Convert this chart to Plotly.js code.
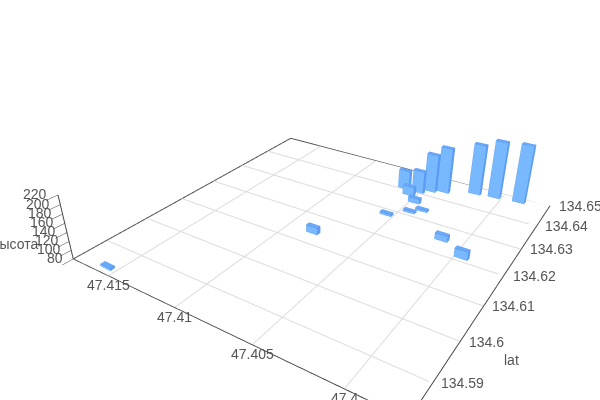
<!DOCTYPE html><html><head><meta charset="utf-8"><script src="https://cdn.plot.ly/plotly-3.0.0.min.js"></script></head><body style="margin:0;overflow:hidden;background:#fff">
<div id="g" style="position:absolute;left:-55px;top:-44px;width:750px;height:500px"></div>
<script>
const lats=[134.6483,134.6476,134.6469,134.6440,134.6428,134.6406,134.6409,134.6386,134.6360,134.6316,134.6335,134.6281,134.6252,134.6215,134.6140,134.5842];
const lons=[47.3989,47.4005,47.4018,47.4037,47.4045,47.4051,47.4062,47.4055,47.4047,47.4044,47.4038,47.4055,47.4013,47.3996,47.4082,47.4157];
const heights=[220,218,203,191,173,136,126,102,92,85,85,85,94,99,96,85];
const latTicks=[134.59,134.6,134.61,134.62,134.63,134.64,134.65];
const lonTicks=[47.4,47.405,47.41,47.415];
const zTicks=[80,100,120,140,160,180,200,220];
const latRange=[134.5825,134.65],lonRange=[47.397,47.418],zRange=[80,220];
const halfLat=.0005,halfLon=.0004,baseZ=80,floorZ=80.5;
const X=[],Y=[],Z=[],I=[],J=[],K=[],FC=[],ex=[],ey=[],ez=[];
const faces=[[0,1,2],[0,2,3],[4,5,6],[4,6,7],[0,1,5],[0,5,4],[1,2,6],[1,6,5],[2,3,7],[2,7,6],[3,0,4],[3,4,7]];
const fcol=['#78b8ff','#78b8ff','#6aa8f8','#6aa8f8','#5c9cf2','#5c9cf2','#78b8ff','#78b8ff','#78b8ff','#78b8ff','#78b8ff','#78b8ff'];
const loop=[0,1,2,3,0,4,5,6,7,4,null,1,5,null,2,6,null,3,7,null];
lats.forEach((la,n)=>{const lo=lons[n],h=heights[n],b=X.length;
 const vx=[la-halfLat,la+halfLat,la+halfLat,la-halfLat],vy=[lo-halfLon,lo-halfLon,lo+halfLon,lo+halfLon];
 [baseZ,h].forEach(z=>vx.forEach((v,i)=>{X.push(v);Y.push(vy[i]);Z.push(z)}));
 faces.forEach((t,i)=>{I.push(b+t[0]);J.push(b+t[1]);K.push(b+t[2]);FC.push(fcol[i])});
 loop.forEach(i=>{if(i===null){ex.push(null);ey.push(null);ez.push(null)}else{ex.push(X[b+i]);ey.push(Y[b+i]);ez.push(Z[b+i])}});
});
const gx=[],gy=[],gz=[];
latTicks.slice(0,6).forEach(v=>{gx.push(v,v,null);gy.push(lonRange[0]+.00002,lonRange[1]-.00002,null);gz.push(floorZ,floorZ,null)});
lonTicks.forEach(v=>{gx.push(latRange[0]+.00005,latRange[1]-.00005,null);gy.push(v,v,null);gz.push(floorZ,floorZ,null)});
const font={family:'Liberation Sans',size:14,color:'#555'};
const ax=(r)=>({title:{text:''},range:r,showticklabels:false,ticks:'',showbackground:false,showspikes:false,showgrid:false,showline:true,linecolor:'#444',linewidth:2,zeroline:false});
const note=(x,y,z,t,anc,xs,ys)=>({x,y,z,text:t,showarrow:false,xanchor:anc,yanchor:'middle',xshift:xs,yshift:ys,font});
const notes=[];
latTicks.forEach(v=>notes.push(note(v,lonRange[0],baseZ,String(v),'left',7,0)));
lonTicks.forEach(v=>notes.push(note(latRange[0],v,baseZ,String(v),'center',0,-9.5)));
zTicks.forEach(v=>notes.push(note(latRange[0],lonRange[1],v,String(v),'right',-8.5,1)));
const toP=(x,y)=>({x:(x+55)/750,y:1-(y+44)/500});
const ann=(t,x,y,anc)=>Object.assign({xref:'paper',yref:'paper',text:t,showarrow:false,xanchor:anc,yanchor:'middle',font},toP(x,y));
const zax=Object.assign(ax(zRange),{ticks:'outside',ticklen:4,tickcolor:'#444',tickvals:zTicks,tickmode:'array'});
Plotly.newPlot('g',[
 {type:'scatter3d',mode:'lines',x:gx,y:gy,z:gz,line:{color:'#dcdcdc',width:2},hoverinfo:'none'},
 {type:'scatter3d',mode:'lines',x:[latRange[1]-.00005,latRange[1]-.00005,latRange[0]+.00005],y:[lonRange[0]+.00002,lonRange[1]-.00002,lonRange[1]-.00002],z:[floorZ,floorZ,floorZ],line:{color:'#555',width:2},hoverinfo:'none'},
 {type:'mesh3d',x:X,y:Y,z:Z,i:I,j:J,k:K,facecolor:FC,flatshading:true,hoverinfo:'none',lighting:{ambient:1,diffuse:0,specular:0,fresnel:0}},
 {type:'scatter3d',mode:'lines',x:ex,y:ey,z:ez,line:{color:'#4f8fe8',width:1},hoverinfo:'none'}
],{width:750,height:500,margin:{l:0,r:0,t:0,b:0},paper_bgcolor:'#fff',showlegend:false,annotations:[ann('lat',511,360,'center'),ann('высота',40,244,'right')],scene:{xaxis:ax(latRange),yaxis:ax(lonRange),zaxis:zax,annotations:notes,aspectmode:'manual',aspectratio:{x:1,y:.9909,z:.1941},camera:{eye:{x:-1.2650,y:-.7957,z:.8115},center:{x:.2382,y:.1875,z:-.1836},up:{x:0,y:0,z:1}}}},{displayModeBar:false});
</script></body></html>
